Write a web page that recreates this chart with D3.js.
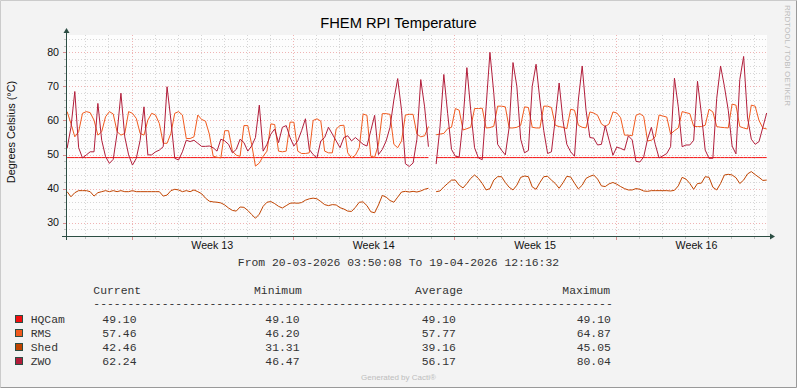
<!DOCTYPE html>
<html><head><meta charset="utf-8">
<script src="https://cdn.jsdelivr.net/npm/d3@7"></script>
<style>
html,body{margin:0;padding:0;background:#fff;}
svg{display:block;}
</style></head><body>
<svg id="chart" width="797" height="388"></svg>
<script>
// ---------------- data ----------------
const title = "FHEM RPI Temperature";
const yLabel = "Degrees Celsius (°C)";
const rangeStart = "2026-03-20T03:50:08Z";
const rangeEnd = "2026-04-19T12:16:32Z";
const periodText = "From 20-03-2026 03:50:08 To 19-04-2026 12:16:32";
const sampleStart = "2026-03-20T05:00:00Z";
const sampleStepHours = 4;
const weekLabels = ["Week 13", "Week 14", "Week 15", "Week 16"];
const yTicks = [30, 40, 50, 60, 70, 80];
const yDomain = [26, 85];

const seriesNames = ["HQCam", "RMS", "Shed", "ZWO"];
const seriesColors = ["#F20F0F", "#F05A1E", "#C04400", "#B11D3A"];

const hqcam = [
49.1,49.1,49.1,49.1,49.1,49.1,49.1,49.1,49.1,49.1,
49.1,49.1,49.1,49.1,49.1,49.1,49.1,49.1,49.1,49.1,
49.1,49.1,49.1,49.1,49.1,49.1,49.1,49.1,49.1,49.1,
49.1,49.1,49.1,49.1,49.1,49.1,49.1,49.1,49.1,49.1,
49.1,49.1,49.1,49.1,49.1,49.1,49.1,49.1,49.1,49.1,
49.1,49.1,49.1,49.1,49.1,49.1,49.1,49.1,49.1,49.1,
49.1,49.1,49.1,49.1,49.1,49.1,49.1,49.1,49.1,49.1,
49.1,49.1,49.1,49.1,49.1,49.1,49.1,49.1,49.1,49.1,
49.1,49.1,49.1,49.1,49.1,49.1,49.1,49.1,49.1,49.1,
49.1,49.1,49.1,49.1,49.1,null,49.1,49.1,49.1,49.1,
49.1,49.1,49.1,49.1,49.1,49.1,49.1,49.1,49.1,49.1,
49.1,49.1,49.1,49.1,49.1,49.1,49.1,49.1,49.1,49.1,
49.1,49.1,49.1,49.1,49.1,49.1,49.1,49.1,49.1,49.1,
49.1,49.1,49.1,49.1,49.1,49.1,49.1,49.1,49.1,49.1,
49.1,49.1,49.1,49.1,49.1,49.1,49.1,49.1,49.1,49.1,
49.1,49.1,49.1,49.1,49.1,49.1,49.1,49.1,49.1,49.1,
49.1,49.1,49.1,49.1,49.1,49.1,49.1,49.1,49.1,49.1,
49.1,49.1,49.1,49.1,49.1,49.1,49.1,49.1,49.1,49.1,
49.1,49.1,49.1];

const rms = [
62.6,59.1,55.2,56.7,62.1,62.6,62.3,60.1,55.7,56.7,
61.1,62.6,61.9,56.7,55.7,56.2,62.6,62.1,60.6,56.2,
55.7,60.1,62.1,61.6,59.1,53.3,53.3,56.2,62.1,62.6,
61.6,54.7,54.7,55.2,61.6,60.3,59.8,56,49.5,49.2,
49,57,57,51,49.8,49.5,58.5,58.5,53,46.6,
47.5,49.5,51,59,58.8,51,50.8,51,59.5,59.5,
51,50.3,50.3,50.5,60,60.5,59.8,51,50.5,50.5,
57.5,58.5,58.6,50.5,49,49.8,52,61.9,61.5,49.5,
49.2,53,62,62,61.8,53,52,54,61.6,61.8,
61.8,56,55.2,55.5,58.2,null,55.8,56,56.2,57.6,
58,63.5,63,57.2,57.6,58,63.5,63.5,63.6,57.8,
57.9,58.3,64.2,64.2,64,57.8,57.8,58,58.6,64,
63.8,58,57.8,57.8,64.2,64.2,63.8,58.6,58.2,58,
57.6,63.3,63,58.6,58,57.8,62.5,62.2,61.5,59,
58.2,59,62.5,62.2,60.8,55.7,55.7,55.5,61.5,62,
61.2,54,54.2,55.2,61.6,61.3,61,56,57,57.8,
62.6,62.3,62,58.3,58.2,58.2,58.6,63.3,62.5,58.2,
58,57.9,57.8,64.8,64.5,58.2,57.8,57.5,64.5,64.2,
60,57.8,57.5];

const shed = [
39.1,37.6,38.8,39.4,39.4,39.4,39.1,37.8,38.8,39.1,
39.4,39.1,39.4,39.1,39.4,39.1,39.1,39.4,39.1,39.1,
39.1,39.1,39.1,39.1,39.1,37.8,38.1,39.4,39.8,39.6,
39.1,39.4,39.1,39.6,39.1,38.5,37.2,36.3,36.1,36,
35.8,35.2,34.3,33.6,33.4,34.6,34.5,33.6,32.4,31.3,
32.5,34.8,36,36.2,35.6,34.8,34.3,35,35.7,35.8,
35.7,35.9,36.6,37,37.2,37,36.2,35.3,35,35.3,
35.2,34.4,34,33.4,33.3,34.5,36,36.1,35,33.2,
32.9,35.2,38,37.5,36.5,36,37.5,39,39.2,39,
39.2,39,39.3,39.8,40.1,null,39.1,39.3,40.5,41.5,
42.5,42.5,41,40.2,41.5,43,44,43,41.5,39.6,
40,42.5,43.5,43.5,41.8,40.4,39.6,41,43.3,43.7,
43.5,40.5,39.8,41.8,43.5,43.6,42.5,41.5,40.1,41.7,
43.6,43.4,41.6,39.9,41,43,43.6,44,42.8,40.8,
40.6,41.4,41.8,41.3,40.6,40,39.6,39.6,40,39.8,
39.3,39.2,39.4,39.4,39.4,39.4,39.4,39.3,39.5,40.8,
43.3,42.8,41.5,39.8,41.5,41.6,43.5,43.3,40.4,39.6,
41.5,44,44.2,44,43.2,41.5,42.5,44.3,45,44.1,
43.3,42.4,42.5];

const zwo = [
51.8,58,68.5,52,49,49.9,50.8,50.8,65,54.2,
49.4,47.4,48.6,56.2,68,55.2,49.9,46.9,48.9,54.2,
64,49.9,49.9,50.8,51.3,52.3,69.9,60.1,48.9,48.4,
50.8,54.2,53.8,54.2,53.3,52.4,52.4,52.5,52,51,
54.5,54,53,50.5,51.5,54.5,53.5,51,52.5,55,
64.5,51,53,56,57.5,53.5,58,58.5,55,52.5,
54,57,60.5,51.5,50,49,54,55,58,56,
54,52,55,55.5,54,55,54,53,52.5,57,
61.5,50,51.5,54,58,66,72.3,63,47.3,46.5,
47.5,54.5,72,64,52.3,null,47.2,58,73.5,62,
51.5,49.5,49.3,60,75.5,63,52,49,48.5,64,
80,68,53,51.3,49.9,58,77,70,54.5,50.5,
51.2,70,76.5,66,57,50.3,50.8,60.5,71,60,
53,50.8,49.5,66,76,63,55,54.8,52.8,53,
58.5,54.2,49.8,52.2,51.8,51.3,55.5,54.3,48,47.8,
49.3,54.5,58,53,49,49.6,50.3,52.3,72.4,64,
52.3,52.8,52.8,54.2,71.5,62,51.3,48.9,48.9,66.5,
76,70,63,52.5,50.2,72,78.8,61,54.5,53,
53.8,58,62.2];

const statCurrent = ["49.10", "57.46", "42.46", "62.24"];
const statMinimum = ["49.10", "46.20", "31.31", "46.47"];
const statAverage = ["49.10", "57.77", "39.16", "56.17"];
const statMaximum = ["49.10", "64.87", "45.05", "80.04"];
const statHeaders = ["Current", "Minimum", "Average", "Maximum"];

// ---------------- drawing ----------------
const W = 797, H = 388;
const SANS = "'Liberation Sans', Arial, sans-serif";
const MONO = "'Liberation Mono', 'Courier New', monospace";
const AXIS = "#2C4D43";
const svg = d3.select("#chart");

const t0 = new Date(rangeStart), t1 = new Date(rangeEnd);
const x = d3.scaleUtc().domain([t0, t1]).range([66, 766]);
const y = d3.scaleLinear().domain(yDomain).range([236.3, 35.3]);
const stepMs = sampleStepHours * 3600 * 1000;
const times = zwo.map((_, i) => new Date(new Date(sampleStart).getTime() + i * stepMs));

svg.append("rect").attr("width", W).attr("height", H).attr("fill", "#F3F3F3");
svg.append("path").attr("d", `M0.5,${H - 0.5}V0.5H${W - 0.5}`).attr("stroke", "#CBCBCB").attr("fill", "none");
svg.append("path").attr("d", `M0.5,${H - 0.5}H${W - 0.5}V0.5`).attr("stroke", "#999999").attr("fill", "none");

const plotL = 66, plotR = 767, plotT = 35, plotB = 236.5;
svg.append("rect").attr("x", plotL).attr("y", plotT).attr("width", plotR - plotL).attr("height", plotB - plotT).attr("fill", "#FDFDFD");

svg.append("clipPath").attr("id", "clip").append("rect")
  .attr("x", plotL).attr("y", plotT).attr("width", plotR - plotL).attr("height", plotB - plotT);

const grid = svg.append("g");
const minorCol = "#D6D6D6", majorCol = "#EFB4B4";
const days = d3.utcDay.range(t0, t1);
const mondays = d3.utcMonday.range(t0, t1);
const isMonday = d => d.getUTCDay() === 1;
const px = v => Math.round(v) + 0.5;

// horizontal minor
d3.range(yDomain[0], yDomain[1] + 1, 2).filter(v => v % 10 !== 0).forEach(v => {
  grid.append("line").attr("x1", plotL).attr("x2", plotR).attr("y1", px(y(v))).attr("y2", px(y(v)))
    .attr("stroke", minorCol).attr("stroke-dasharray", "1,2");
  svg.append("line").attr("x1", 64).attr("x2", 66).attr("y1", px(y(v))).attr("y2", px(y(v))).attr("stroke", "#C0C0C0");
});
// vertical minor
days.filter(d => !isMonday(d)).forEach(d => {
  grid.append("line").attr("x1", px(x(d))).attr("x2", px(x(d))).attr("y1", plotT).attr("y2", plotB)
    .attr("stroke", minorCol).attr("stroke-dasharray", "1,2");
  svg.append("line").attr("x1", px(x(d))).attr("x2", px(x(d))).attr("y1", 237).attr("y2", 239).attr("stroke", "#C0C0C0");
});
// horizontal major
yTicks.forEach(v => {
  grid.append("line").attr("x1", plotL).attr("x2", plotR).attr("y1", px(y(v))).attr("y2", px(y(v)))
    .attr("stroke", majorCol).attr("stroke-dasharray", "1,2");
  svg.append("line").attr("x1", 63).attr("x2", 66).attr("y1", px(y(v))).attr("y2", px(y(v))).attr("stroke", "#D89090");
});
// vertical major
mondays.forEach(d => {
  grid.append("line").attr("x1", px(x(d))).attr("x2", px(x(d))).attr("y1", plotT).attr("y2", plotB)
    .attr("stroke", majorCol).attr("stroke-dasharray", "1,2");
  svg.append("line").attr("x1", px(x(d))).attr("x2", px(x(d))).attr("y1", 237).attr("y2", 240).attr("stroke", "#D89090");
});

// series
const allSeries = [hqcam, rms, shed, zwo];
const lineGen = d3.line().defined(d => d != null).x((d, i) => x(times[i])).y(d => y(d));
const lines = svg.append("g").attr("clip-path", "url(#clip)");
allSeries.forEach((s, k) => {
  lines.append("path").datum(s).attr("d", lineGen).attr("fill", "none")
    .attr("stroke", seriesColors[k]).attr("stroke-width", 1).attr("stroke-linejoin", "round");
});

// axes
const ax = svg.append("g");
ax.append("line").attr("x1", 62).attr("x2", 771).attr("y1", 236.5).attr("y2", 236.5).attr("stroke", AXIS);
ax.append("path").attr("d", "M770,233.5L775,236.5L770,239.5Z").attr("fill", AXIS);
ax.append("line").attr("x1", 66.5).attr("x2", 66.5).attr("y1", 240).attr("y2", 32).attr("stroke", AXIS);
ax.append("path").attr("d", "M63.5,33L66.5,28L69.5,33Z").attr("fill", AXIS);

// tick labels
yTicks.forEach(v => {
  svg.append("text").attr("x", 59).attr("y", y(v) + 3.8).attr("text-anchor", "end")
    .attr("font-family", SANS).attr("font-size", "10.67px").attr("fill", "#111").text(v);
});
mondays.forEach((d, i) => {
  const mid = new Date(d.getTime() + 3.5 * 86400000);
  svg.append("text").attr("x", x(mid)).attr("y", 249).attr("text-anchor", "middle")
    .attr("font-family", SANS).attr("font-size", "10.67px").attr("fill", "#111").text(weekLabels[i]);
});

// titles
svg.append("text").attr("x", 398.5).attr("y", 28).attr("text-anchor", "middle")
  .attr("font-family", SANS).attr("font-size", "14.7px").attr("fill", "#000").text(title);
svg.append("text").attr("transform", "translate(15,132) rotate(-90)").attr("text-anchor", "middle")
  .attr("font-family", SANS).attr("font-size", "10.9px").attr("fill", "#111").text(yLabel);
svg.append("text").attr("transform", "translate(785,5) rotate(90)").attr("text-anchor", "start")
  .attr("font-family", SANS).attr("font-size", "8px").attr("fill", "#BDBDBD").text("RRDTOOL / TOBI OETIKER");

// period
const legFont = "11.4px";
svg.append("text").attr("x", 398.5).attr("y", 266).attr("text-anchor", "middle")
  .attr("font-family", MONO).attr("font-size", legFont).attr("fill", "#333").text(periodText);

// legend table
const headX = [93.3, 254, 415, 562.3];
const valX = [102.3, 265.3, 421.7, 576.7];
statHeaders.forEach((h, j) => {
  svg.append("text").attr("x", headX[j]).attr("y", 294).attr("font-family", MONO).attr("font-size", legFont)
    .attr("fill", "#333").text(h);
});
svg.append("text").attr("x", 93.3).attr("y", 306.5).attr("font-family", MONO).attr("font-size", legFont)
  .attr("fill", "#333").text("-".repeat(76));
const stats = [statCurrent, statMinimum, statAverage, statMaximum];
seriesNames.forEach((n, k) => {
  const ry = 322.5 + 14 * k;
  svg.append("rect").attr("x", 15.5).attr("y", ry - 7).attr("width", 7).attr("height", 7)
    .attr("fill", seriesColors[k]).attr("stroke", AXIS);
  svg.append("text").attr("x", 30.7).attr("y", ry).attr("font-family", MONO).attr("font-size", legFont)
    .attr("fill", "#333").text(n);
  stats.forEach((col, j) => {
    svg.append("text").attr("x", valX[j]).attr("y", ry).attr("font-family", MONO).attr("font-size", legFont)
      .attr("fill", "#333").text(col[k]);
  });
});

svg.append("text").attr("x", 398.5).attr("y", 380).attr("text-anchor", "middle")
  .attr("font-family", SANS).attr("font-size", "8px").attr("fill", "#BDBDBD").text("Generated by Cacti®");
</script>
</body></html>
